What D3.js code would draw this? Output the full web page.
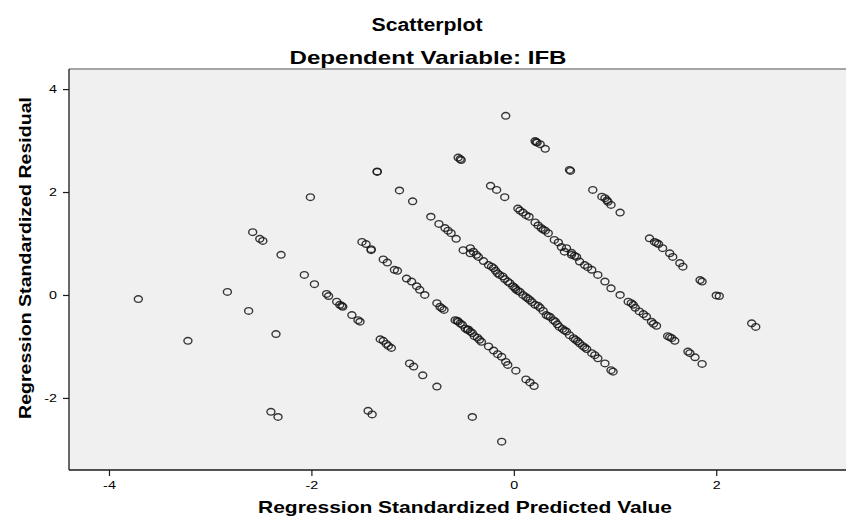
<!DOCTYPE html>
<html>
<head>
<meta charset="utf-8">
<script src="https://cdn.jsdelivr.net/npm/d3@7"></script>
<style>
  body { margin: 0; background: #fff; }
  text { font-family: "Liberation Sans", Arial, sans-serif; fill: #000; }
</style>
</head>
<body>
<svg id="chart" width="846" height="518"></svg>
<script>
// Regression standardized predicted value (x) vs standardized residual (y),
// read off the picture band by band.
const sparse = [
  [-3.71, -0.08], [-3.22, -0.89], [-2.83, 0.06], [-2.62, -0.31], [-2.35, -0.76],
  [-2.40, -2.27], [-2.33, -2.37], [-2.01, 1.90], [-1.44, -2.25], [-1.40, -2.32],
  [-0.41, -2.37], [-0.12, -2.85]
];

const band1 = [
  [-2.58, 1.22], [-2.51, 1.09], [-2.48, 1.05], [-2.30, 0.78], [-2.07, 0.39],
  [-1.97, 0.21], [-1.85, 0.02], [-1.83, -0.02], [-1.75, -0.13], [-1.72, -0.19],
  [-1.70, -0.21], [-1.69, -0.23], [-1.60, -0.39], [-1.54, -0.49], [-1.52, -0.52],
  [-1.32, -0.86], [-1.29, -0.89], [-1.26, -0.95], [-1.24, -0.99], [-1.21, -1.03],
  [-1.03, -1.33], [-0.99, -1.39], [-0.90, -1.56], [-0.76, -1.78]
];

const band2 = [
  [-1.50, 1.03], [-1.46, 0.99], [-1.41, 0.89], [-1.41, 0.87], [-1.29, 0.69],
  [-1.25, 0.63], [-1.18, 0.49], [-1.15, 0.47], [-1.06, 0.32], [-1.01, 0.26],
  [-0.96, 0.17], [-0.93, 0.10], [-0.88, 0.00], [-0.76, -0.16], [-0.73, -0.23],
  [-0.71, -0.26], [-0.69, -0.29], [-0.58, -0.49], [-0.56, -0.50], [-0.55, -0.52],
  [-0.53, -0.55], [-0.51, -0.58], [-0.48, -0.65], [-0.46, -0.68], [-0.45, -0.67],
  [-0.43, -0.71], [-0.41, -0.74], [-0.39, -0.80], [-0.36, -0.83], [-0.34, -0.87],
  [-0.32, -0.91], [-0.25, -1.00], [-0.20, -1.08], [-0.16, -1.15], [-0.12, -1.20],
  [-0.08, -1.30], [-0.06, -1.36], [0.02, -1.47], [0.12, -1.64], [0.16, -1.70],
  [0.20, -1.77]
];

const band3 = [
  [-1.35, 2.39], [-1.35, 2.40], [-1.13, 2.03], [-1.00, 1.82], [-0.82, 1.52],
  [-0.74, 1.38], [-0.68, 1.30], [-0.65, 1.25], [-0.62, 1.20], [-0.57, 1.09],
  [-0.50, 0.87], [-0.43, 0.91], [-0.43, 0.81], [-0.40, 0.84], [-0.37, 0.78],
  [-0.35, 0.74], [-0.30, 0.66], [-0.25, 0.58], [-0.22, 0.55], [-0.20, 0.52],
  [-0.18, 0.47], [-0.16, 0.42], [-0.14, 0.39], [-0.11, 0.36], [-0.09, 0.31],
  [-0.06, 0.26], [-0.04, 0.23], [-0.01, 0.17], [0.01, 0.14], [0.02, 0.11],
  [0.04, 0.08], [0.06, 0.06], [0.09, 0.00], [0.12, -0.04], [0.14, -0.07],
  [0.16, -0.10], [0.18, -0.14], [0.21, -0.19], [0.24, -0.21], [0.26, -0.25],
  [0.29, -0.31], [0.32, -0.39], [0.34, -0.41], [0.36, -0.43], [0.39, -0.49],
  [0.41, -0.52], [0.43, -0.57], [0.45, -0.62], [0.48, -0.66], [0.50, -0.69],
  [0.52, -0.71], [0.55, -0.78], [0.59, -0.84], [0.61, -0.87], [0.63, -0.90],
  [0.65, -0.94], [0.68, -0.99], [0.70, -1.02], [0.72, -1.05], [0.77, -1.13],
  [0.80, -1.17], [0.83, -1.23], [0.90, -1.33], [0.96, -1.46], [0.98, -1.49]
];

const band4 = [
  [-0.55, 2.67], [-0.53, 2.64], [-0.52, 2.62], [-0.23, 2.12], [-0.17, 2.04],
  [-0.09, 1.90], [0.04, 1.68], [0.06, 1.64], [0.09, 1.60], [0.12, 1.55],
  [0.15, 1.52], [0.21, 1.41], [0.24, 1.35], [0.27, 1.30], [0.29, 1.27],
  [0.31, 1.25], [0.34, 1.20], [0.40, 1.07], [0.44, 1.02], [0.47, 0.93],
  [0.50, 0.84], [0.52, 0.91], [0.57, 0.82], [0.57, 0.78], [0.60, 0.76],
  [0.62, 0.74], [0.65, 0.65], [0.70, 0.58], [0.73, 0.54], [0.77, 0.49],
  [0.83, 0.39], [0.90, 0.26], [0.96, 0.13], [1.05, 0.00], [1.13, -0.13],
  [1.16, -0.16], [1.18, -0.19], [1.20, -0.25], [1.24, -0.32], [1.28, -0.37],
  [1.31, -0.42], [1.36, -0.52], [1.38, -0.56], [1.41, -0.60], [1.52, -0.80],
  [1.54, -0.82], [1.56, -0.84], [1.59, -0.89], [1.72, -1.10], [1.74, -1.13],
  [1.79, -1.21], [1.86, -1.34]
];

const band5 = [
  [-0.08, 3.48], [0.21, 2.99], [0.22, 2.97], [0.23, 2.96], [0.26, 2.93],
  [0.31, 2.84], [0.55, 2.43], [0.56, 2.41], [0.78, 2.04], [0.87, 1.91],
  [0.90, 1.88], [0.92, 1.84], [0.93, 1.81], [0.96, 1.75], [1.05, 1.60],
  [1.34, 1.10], [1.39, 1.03], [1.41, 1.01], [1.43, 0.99], [1.47, 0.91],
  [1.54, 0.81], [1.57, 0.74], [1.64, 0.62], [1.67, 0.55], [1.84, 0.29],
  [1.86, 0.26], [2.00, -0.01], [2.03, -0.02], [2.35, -0.55], [2.39, -0.62]
];

const xTicks = [-4, -2, 0, 2];
const yTicks = [-2, 0, 2, 4];

const points = [].concat(sparse, band1, band2, band3, band4, band5);

const svg = d3.select("#chart");

// plot frame (right edge runs past the picture)
const plotLeft = 69, plotRight = 861, plotTop = 69, plotBottom = 470;

const x = d3.scaleLinear().domain([-4.395, 3.43]).range([plotLeft, plotRight]);
const y = d3.scaleLinear().domain([-3.40, 4.39]).range([plotBottom, plotTop]);

svg.append("rect")
  .attr("x", plotLeft).attr("y", plotTop)
  .attr("width", plotRight - plotLeft).attr("height", plotBottom - plotTop)
  .attr("fill", "#f0f0f0");

svg.append("line")
  .attr("x1", plotLeft).attr("x2", plotRight).attr("y1", plotTop).attr("y2", plotTop)
  .attr("stroke", "#8a8a8a").attr("stroke-width", 1.5);
svg.append("line")
  .attr("x1", plotLeft).attr("x2", plotLeft).attr("y1", plotTop).attr("y2", plotBottom)
  .attr("stroke", "#1a1a1a").attr("stroke-width", 1.3);
svg.append("line")
  .attr("x1", plotLeft).attr("x2", plotRight).attr("y1", plotBottom).attr("y2", plotBottom)
  .attr("stroke", "#1a1a1a").attr("stroke-width", 1.3);

// axes
const xAxis = svg.append("g")
  .attr("transform", `translate(0,${plotBottom})`)
  .call(d3.axisBottom(x).tickValues(xTicks).tickFormat(d => String(d))
    .tickSize(6).tickSizeOuter(0).tickPadding(5.5));

const yAxis = svg.append("g")
  .attr("transform", `translate(${plotLeft},0)`)
  .call(d3.axisLeft(y).tickValues(yTicks).tickFormat(d => String(d))
    .tickSize(6).tickSizeOuter(0).tickPadding(3.2));

[xAxis, yAxis].forEach(g => {
  g.select(".domain").remove();
  g.selectAll(".tick line").attr("stroke", "#1a1a1a").attr("stroke-width", 1.2);
  g.selectAll(".tick text")
    .attr("font-size", 11)
    .attr("fill", "#111")
    .attr("transform", "scale(1.3,1)");
});

// points
svg.append("g")
  .selectAll("ellipse")
  .data(points)
  .enter()
  .append("ellipse")
    .attr("cx", d => x(d[0]))
    .attr("cy", d => y(d[1]))
    .attr("rx", 4)
    .attr("ry", 3.3)
    .attr("fill", "none")
    .attr("stroke", "#151515")
    .attr("stroke-opacity", 0.85)
    .attr("stroke-width", 1.4);

// titles
svg.append("text")
  .attr("x", 427).attr("y", 31)
  .attr("text-anchor", "middle")
  .attr("font-size", 18).attr("font-weight", "bold")
  .attr("textLength", 111).attr("lengthAdjust", "spacingAndGlyphs")
  .text("Scatterplot");

svg.append("text")
  .attr("x", 428).attr("y", 64)
  .attr("text-anchor", "middle")
  .attr("font-size", 19).attr("font-weight", "bold")
  .attr("textLength", 277).attr("lengthAdjust", "spacingAndGlyphs")
  .text("Dependent Variable: IFB");

svg.append("text")
  .attr("x", (plotLeft + plotRight) / 2).attr("y", 513)
  .attr("text-anchor", "middle")
  .attr("font-size", 17).attr("font-weight", "bold")
  .attr("textLength", 414).attr("lengthAdjust", "spacingAndGlyphs")
  .text("Regression Standardized Predicted Value");

svg.append("text")
  .attr("transform", "translate(31,258) rotate(-90)")
  .attr("text-anchor", "middle")
  .attr("font-size", 17).attr("font-weight", "bold")
  .attr("textLength", 322).attr("lengthAdjust", "spacingAndGlyphs")
  .text("Regression Standardized Residual");
</script>
</body>
</html>
